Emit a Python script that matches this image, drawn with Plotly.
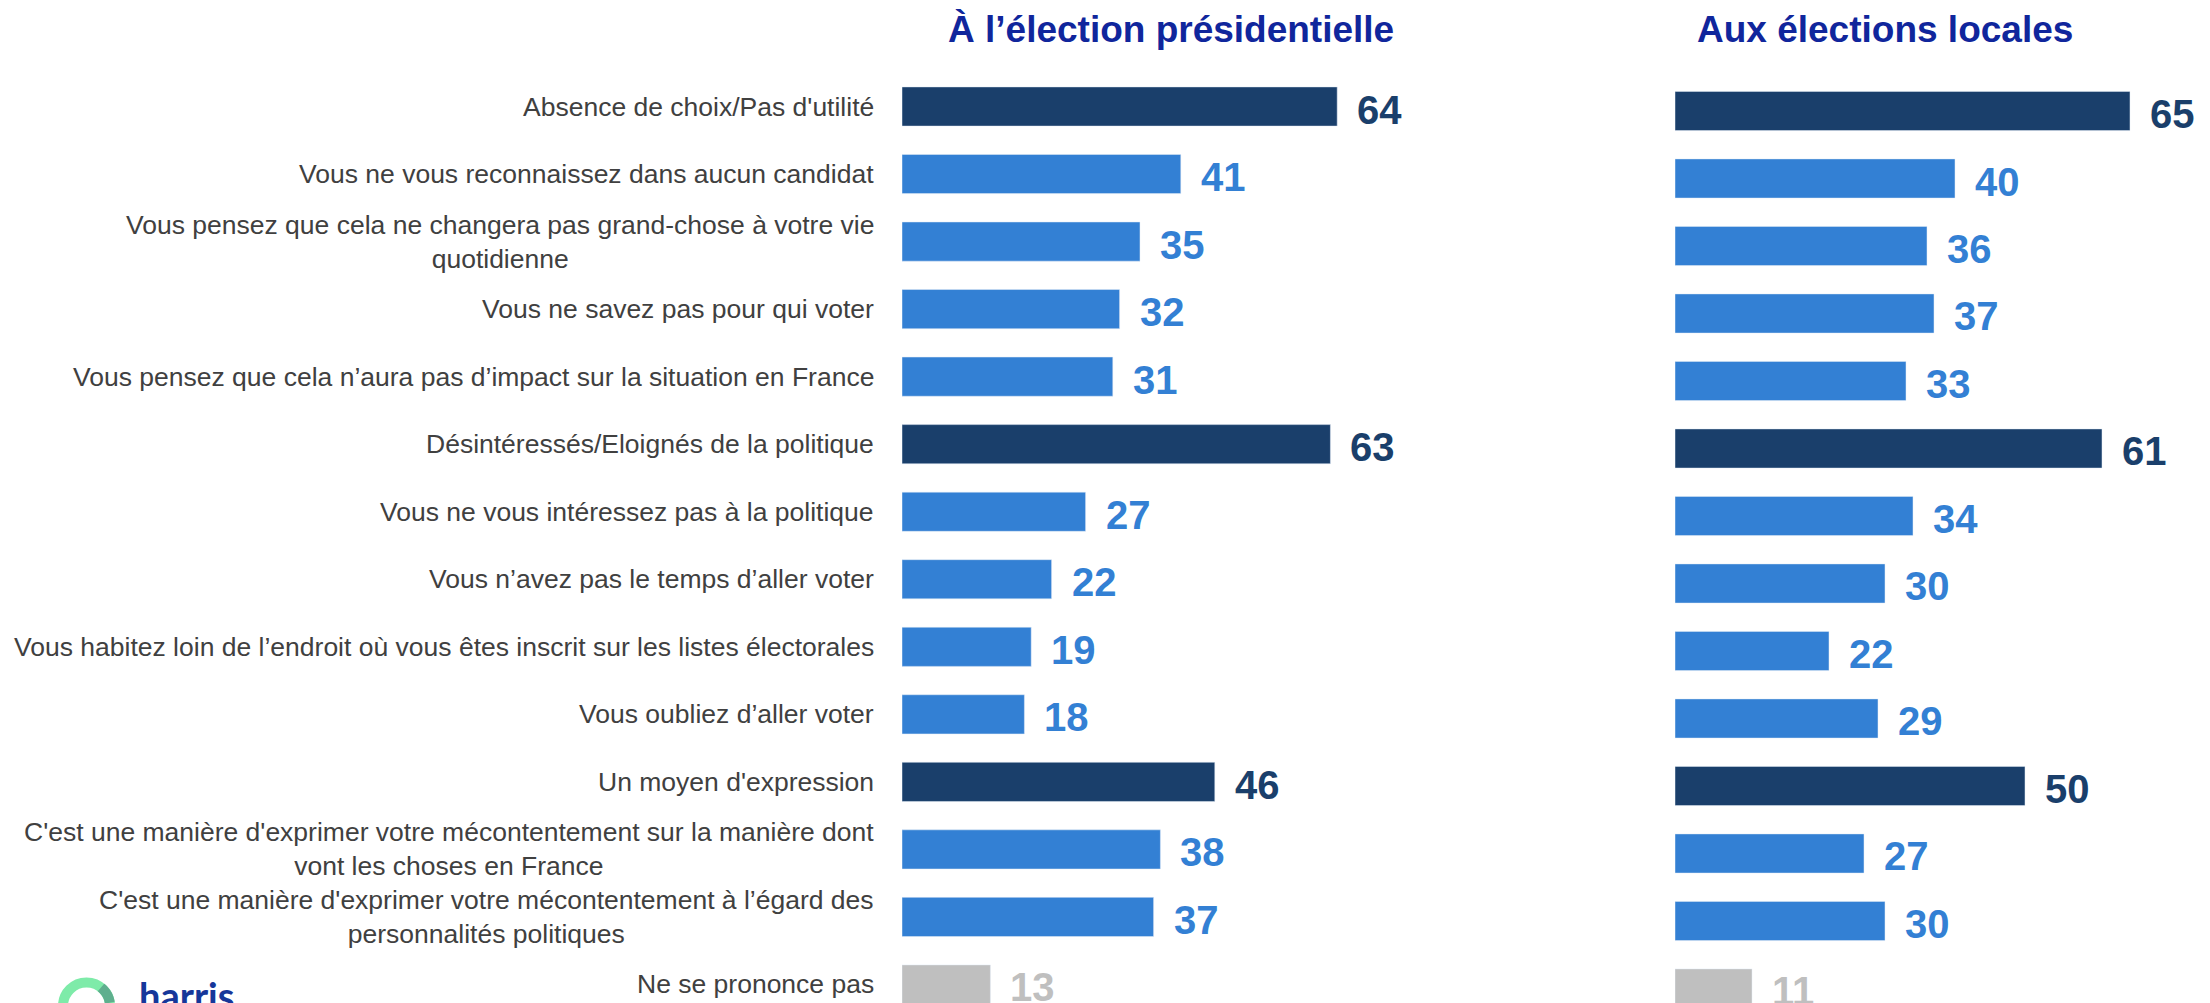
import numpy as np
import plotly.graph_objects as go

# the page body keeps an 8px margin, so the figure is shifted by OFF
OFF = 8
W, H = 2202, 995

categories = [
    "Absence de choix/Pas d'utilité",
    "Vous ne vous reconnaissez dans aucun candidat",
    "Vous pensez que cela ne changera pas grand-chose à votre vie<br>quotidienne",
    "Vous ne savez pas pour qui voter",
    "Vous pensez que cela n’aura pas d’impact sur la situation en France",
    "Désintéressés/Eloignés de la politique",
    "Vous ne vous intéressez pas à la politique",
    "Vous n’avez pas le temps d’aller voter",
    "Vous habitez loin de l’endroit où vous êtes inscrit sur les listes électorales",
    "Vous oubliez d’aller voter",
    "Un moyen d'expression",
    "C'est une manière d'exprimer votre mécontentement sur la manière dont<br>vont les choses en France",
    "C'est une manière d'exprimer votre mécontentement à l’égard des<br>personnalités politiques",
    "Ne se prononce pas",
]
row_kind = ["group", "item", "item", "item", "item",
            "group", "item", "item", "item", "item",
            "group", "item", "item", "nsp"]
presidentielle = [64, 41, 35, 32, 31, 63, 27, 22, 19, 18, 46, 38, 37, 13]
locales = [65, 40, 36, 37, 33, 61, 34, 30, 22, 29, 50, 27, 30, 11]
panel_titles = ["À l’élection présidentielle", "Aux élections locales"]

KIND_COLOR = {"group": "#1A3F6B", "item": "#3380D4", "nsp": "#BFBFBF"}
TITLE_COLOR = "#10269C"
LABEL_COLOR = "#404040"
FONT = "Liberation Sans, Arial, sans-serif"

colors = [KIND_COLOR[k] for k in row_kind]


def px_x(p):
    # screen pixel -> paper x
    return (p - OFF) / W


def px_y(p):
    # screen pixel -> paper y
    return 1 - (p - OFF) / H


fig = go.Figure()
fig.add_trace(go.Bar(x=presidentielle, y=categories, orientation="h",
                     marker_color=colors, width=0.58,
                     xaxis="x", yaxis="y", hoverinfo="skip"))
fig.add_trace(go.Bar(x=locales, y=categories, orientation="h",
                     marker_color=colors, width=0.58,
                     xaxis="x2", yaxis="y2", hoverinfo="skip"))

annotations = []
# category labels, left of the first panel
for cat in categories:
    annotations.append(dict(xref="x", yref="y", x=0, y=cat, text=cat,
                            xanchor="right", yanchor="middle", align="center",
                            xshift=-26, showarrow=False,
                            font=dict(family=FONT, size=26.5, color=LABEL_COLOR)))
# value labels
for xr, yr, vals in (("x", "y", presidentielle), ("x2", "y2", locales)):
    for cat, v, c in zip(categories, vals, colors):
        annotations.append(dict(xref=xr, yref=yr, x=v, y=cat, text=str(v),
                                xanchor="left", yanchor="middle", xshift=18, yshift=-3,
                                showarrow=False,
                                font=dict(family=FONT, size=40, color=c, weight="bold")))
# panel titles
for t, cx in zip(panel_titles, (1171, 1885)):
    annotations.append(dict(xref="paper", yref="paper", x=px_x(cx), y=px_y(29), text=t,
                            xanchor="center", yanchor="middle", showarrow=False,
                            font=dict(family=FONT, size=37, color=TITLE_COLOR, weight="bold")))
# logo text
annotations.append(dict(xref="paper", yref="paper", x=px_x(137), y=px_y(995), text="harris",
                        xanchor="left", yanchor="middle", showarrow=False,
                        font=dict(family="Lato, Inter, sans-serif", size=38, color="#16379A",
                                  weight="bold")))

# logo ring
cx, cy, r = 86.5, 1006, 23.5
shapes = [dict(type="circle", xref="paper", yref="paper",
               x0=px_x(cx - r), x1=px_x(cx + r), y0=px_y(cy + r), y1=px_y(cy - r),
               line=dict(color="#7EEBA9", width=10), layer="above")]
ang = np.radians(np.linspace(8, 52, 12))
pts = [(px_x(cx + r * np.cos(a)), px_y(cy - r * np.sin(a))) for a in ang]
path = "M " + " L ".join(f"{x:.5f},{y:.5f}" for x, y in pts)
shapes.append(dict(type="path", xref="paper", yref="paper", path=path,
                   line=dict(color="#5FAF8E", width=10), layer="above"))

fig.update_layout(
    width=W, height=H,
    margin=dict(l=0, r=0, t=0, b=0),
    paper_bgcolor="white", plot_bgcolor="white",
    showlegend=False,
    xaxis=dict(domain=[px_x(902), px_x(1560)], range=[0, 658 / 6.8], visible=False),
    yaxis=dict(anchor="x", range=[13.274, -1.4584], visible=False),
    xaxis2=dict(domain=[px_x(1675), 1], range=[0, 535 / 7.0], visible=False),
    yaxis2=dict(anchor="x2", range=[13.215, -1.5259], visible=False),
    annotations=annotations,
    shapes=shapes,
)

fig.write_html("out.html")
